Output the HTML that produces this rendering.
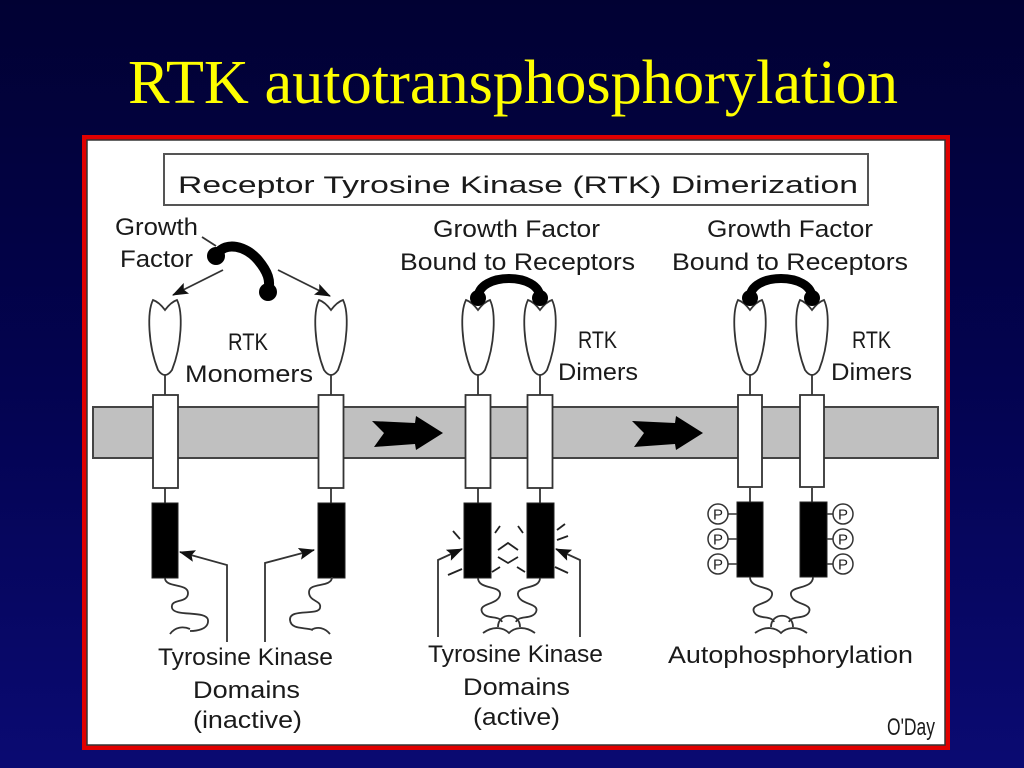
<!DOCTYPE html>
<html>
<head>
<meta charset="utf-8">
<style>
html,body{margin:0;padding:0;background:#000033;}
svg{display:block;}
.lbl{font-family:"Liberation Sans","DejaVu Sans",sans-serif;font-size:24px;fill:#1a1a1a;}
.ln{stroke:#333;stroke-width:1.8;fill:none;}
</style>
</head>
<body>
<svg width="1024" height="768" viewBox="0 0 1024 768" xmlns="http://www.w3.org/2000/svg">
<defs>
  <linearGradient id="bg" x1="0" y1="0" x2="0" y2="1">
    <stop offset="0" stop-color="#010133"/>
    <stop offset="0.5" stop-color="#030350"/>
    <stop offset="1" stop-color="#0a0a72"/>
  </linearGradient>
  <marker id="ah" markerWidth="16" markerHeight="12" refX="15" refY="6" orient="auto" markerUnits="userSpaceOnUse">
    <path d="M0,0 L16,6 L0,12 L3,6 Z" fill="#111"/>
  </marker>
</defs>
<rect x="0" y="0" width="1024" height="768" fill="url(#bg)"/>

<!-- Title -->
<text x="128" y="103" font-family="'Liberation Serif','DejaVu Serif',serif" font-size="62" fill="#ffff00" textLength="770" lengthAdjust="spacingAndGlyphs">RTK autotransphosphorylation</text>

<!-- Frame -->
<rect x="84.5" y="137.5" width="863" height="610" fill="none" stroke="#e00000" stroke-width="5"/>
<rect x="87" y="140" width="858" height="605" fill="#ffffff" stroke="#333" stroke-width="1.5"/>

<!-- Header box -->
<rect x="164" y="154" width="704" height="51" fill="#fff" stroke="#555" stroke-width="2"/>
<text class="lbl" x="178" y="193" font-size="37" textLength="680" lengthAdjust="spacingAndGlyphs">Receptor Tyrosine Kinase (RTK) Dimerization</text>

<!-- Membrane -->
<rect x="93" y="407" width="845" height="51" fill="#c0c0c0" stroke="#444" stroke-width="2"/>

<!-- Big arrows -->
<polygon points="372,421 415,423 416,416 443,433 416,450 415,444 374,447 384,433" fill="#000"/>
<polygon points="632,421 675,423 676,416 703,433 676,450 675,444 634,447 644,433" fill="#000"/>

<!-- Receptors: stems -->
<g stroke="#333" stroke-width="1.8">
  <line x1="165" y1="374" x2="165" y2="395"/><line x1="165" y1="488" x2="165" y2="503"/>
  <line x1="331" y1="374" x2="331" y2="395"/><line x1="331" y1="488" x2="331" y2="503"/>
  <line x1="478" y1="374" x2="478" y2="395"/><line x1="478" y1="488" x2="478" y2="503"/>
  <line x1="540" y1="374" x2="540" y2="395"/><line x1="540" y1="488" x2="540" y2="503"/>
  <line x1="750" y1="374" x2="750" y2="395"/><line x1="750" y1="488" x2="750" y2="503"/>
  <line x1="812" y1="374" x2="812" y2="395"/><line x1="812" y1="488" x2="812" y2="503"/>
</g>

<!-- Ovals -->
<g fill="#fff" stroke="#333" stroke-width="1.8">
  <path d="M153,300 Q159,302 165,310 Q171,302 177,300 C183,312 182,345 172,370 Q165,380 158,370 C148,345 147,312 153,300 Z"/>
  <path d="M319,300 Q325,302 331,310 Q337,302 343,300 C349,312 348,345 338,370 Q331,380 324,370 C314,345 313,312 319,300 Z"/>
  <path d="M466,300 Q472,302 478,310 Q484,302 490,300 C496,312 495,345 485,370 Q478,380 471,370 C461,345 460,312 466,300 Z"/>
  <path d="M528,300 Q534,302 540,310 Q546,302 552,300 C558,312 557,345 547,370 Q540,380 533,370 C523,345 522,312 528,300 Z"/>
  <path d="M738,300 Q744,302 750,310 Q756,302 762,300 C768,312 767,345 757,370 Q750,380 743,370 C733,345 732,312 738,300 Z"/>
  <path d="M800,300 Q806,302 812,310 Q818,302 824,300 C830,312 829,345 819,370 Q812,380 805,370 C795,345 794,312 800,300 Z"/>
</g>

<!-- Transmembrane white rects -->
<g fill="#fff" stroke="#333" stroke-width="1.8">
  <rect x="153" y="395" width="25" height="93"/>
  <rect x="318.5" y="395" width="25" height="93"/>
  <rect x="465.5" y="395" width="25" height="93"/>
  <rect x="527.5" y="395" width="25" height="93"/>
  <rect x="738" y="395" width="24" height="92"/>
  <rect x="800" y="395" width="24" height="92"/>
</g>

<!-- Kinase black rects -->
<g fill="#000" stroke="#222" stroke-width="1">
  <rect x="152" y="503" width="26" height="75"/>
  <rect x="318" y="503" width="27" height="75"/>
  <rect x="464" y="503" width="27" height="75"/>
  <rect x="527" y="503" width="27" height="75"/>
  <rect x="737" y="502" width="26" height="75"/>
  <rect x="800" y="502" width="27" height="75"/>
</g>

<!-- Free growth factor -->
<path d="M217,254 C226,241 246,246 258,260 C268,272 271,281 268,291" fill="none" stroke="#000" stroke-width="10" stroke-linecap="round"/>
<circle cx="216" cy="256" r="9" fill="#000"/>
<circle cx="268" cy="292" r="9" fill="#000"/>
<line x1="202" y1="237" x2="216" y2="246" class="ln" stroke-width="1.5"/>
<line x1="223" y1="270" x2="173" y2="295" class="ln" marker-end="url(#ah)"/>
<line x1="278" y1="270" x2="330" y2="296" class="ln" marker-end="url(#ah)"/>

<!-- Bound growth factors -->
<path d="M478,298 C478,272 540,272 540,298" fill="none" stroke="#000" stroke-width="9"/>
<circle cx="478" cy="298" r="8" fill="#000"/>
<circle cx="540" cy="298" r="8" fill="#000"/>
<path d="M750,298 C750,272 812,272 812,298" fill="none" stroke="#000" stroke-width="9"/>
<circle cx="750" cy="298" r="8" fill="#000"/>
<circle cx="812" cy="298" r="8" fill="#000"/>

<!-- Monomer tails -->
<path class="ln" d="M165,578 C165,588 188,583 188,593 C188,604 170,598 172,608 C174,617 207,610 208,620 C209,630 195,631 190,631"/>
<path class="ln" d="M170,634 C175,627 183,626 190,629"/>
<path class="ln" d="M332,577 C332,588 309,582 309,592 C309,602 322,600 320,608 C318,616 289,608 290,620 C291,630 305,627 313,630"/>
<path class="ln" d="M311,630 C318,626 325,628 330,634"/>

<!-- Inactive arrows -->
<polyline class="ln" points="227,642 227,565 180,552" marker-end="url(#ah)"/>
<polyline class="ln" points="265,642 265,563 314,550" marker-end="url(#ah)"/>

<!-- Active dimer tails -->
<path class="ln" d="M478,578 C478,590 502,585 500,595 C498,605 478,603 482,612 C486,620 500,615 502,622"/>
<path class="ln" d="M540,578 C540,590 516,585 518,595 C520,605 540,603 536,612 C532,620 518,615 516,622"/>
<path class="ln" d="M498,627 C498,612 520,612 520,627"/>
<path class="ln" d="M483,633 C494,625 504,628 509,633 C514,628 524,625 535,633"/>

<!-- Active arrows -->
<polyline class="ln" points="438,637 438,560 462,549" marker-end="url(#ah)"/>
<polyline class="ln" points="580,637 580,560 556,549" marker-end="url(#ah)"/>

<!-- Sparkles -->
<g stroke="#222" stroke-width="1.8" fill="none">
  <line x1="453" y1="531" x2="460" y2="539"/>
  <line x1="448" y1="575" x2="462" y2="569"/>
  <line x1="495" y1="533" x2="500" y2="526"/>
  <line x1="518" y1="526" x2="523" y2="533"/>
  <polyline points="498,550 508,543 518,550"/>
  <polyline points="498,557 508,563 518,557"/>
  <line x1="492" y1="572" x2="500" y2="567"/>
  <line x1="517" y1="567" x2="525" y2="572"/>
  <line x1="557" y1="530" x2="565" y2="524"/>
  <line x1="557" y1="540" x2="568" y2="536"/>
  <line x1="555" y1="567" x2="568" y2="573"/>
</g>

<!-- Autophosphorylated tails -->
<path class="ln" d="M750,577 C750,590 774,585 772,595 C770,605 750,603 754,612 C758,620 772,615 774,622"/>
<path class="ln" d="M813,577 C813,590 789,585 791,595 C793,605 813,603 809,612 C805,620 791,615 789,622"/>
<path class="ln" d="M771,627 C771,612 793,612 793,627"/>
<path class="ln" d="M755,633 C766,625 776,628 781,633 C786,628 796,625 807,633"/>

<!-- P circles -->
<g stroke="#333" stroke-width="1.5">
  <line x1="728" y1="514" x2="737" y2="514"/><line x1="728" y1="539" x2="737" y2="539"/><line x1="728" y1="564" x2="737" y2="564"/>
  <line x1="827" y1="514" x2="833" y2="514"/><line x1="827" y1="539" x2="833" y2="539"/><line x1="827" y1="564" x2="833" y2="564"/>
</g>
<g fill="#fff" stroke="#333" stroke-width="1.5">
  <circle cx="718" cy="514" r="10"/><circle cx="718" cy="539" r="10"/><circle cx="718" cy="564" r="10"/>
  <circle cx="843" cy="514" r="10"/><circle cx="843" cy="539" r="10"/><circle cx="843" cy="564" r="10"/>
</g>
<g font-family="'Liberation Sans',sans-serif" font-size="15" fill="#222" text-anchor="middle">
  <text x="718" y="519.5">P</text><text x="718" y="544.5">P</text><text x="718" y="569.5">P</text>
  <text x="843" y="519.5">P</text><text x="843" y="544.5">P</text><text x="843" y="569.5">P</text>
</g>

<!-- Labels -->
<text class="lbl" x="115" y="235" textLength="83" lengthAdjust="spacingAndGlyphs">Growth</text>
<text class="lbl" x="120" y="267" textLength="73" lengthAdjust="spacingAndGlyphs">Factor</text>
<text class="lbl" x="228" y="350" textLength="40" lengthAdjust="spacingAndGlyphs">RTK</text>
<text class="lbl" x="185" y="382" textLength="128" lengthAdjust="spacingAndGlyphs">Monomers</text>

<text class="lbl" x="433" y="237" textLength="167" lengthAdjust="spacingAndGlyphs">Growth Factor</text>
<text class="lbl" x="400" y="270" textLength="235" lengthAdjust="spacingAndGlyphs">Bound to Receptors</text>
<text class="lbl" x="578" y="348" textLength="39" lengthAdjust="spacingAndGlyphs">RTK</text>
<text class="lbl" x="558" y="380" textLength="80" lengthAdjust="spacingAndGlyphs">Dimers</text>

<text class="lbl" x="707" y="237" textLength="166" lengthAdjust="spacingAndGlyphs">Growth Factor</text>
<text class="lbl" x="672" y="270" textLength="236" lengthAdjust="spacingAndGlyphs">Bound to Receptors</text>
<text class="lbl" x="852" y="348" textLength="39" lengthAdjust="spacingAndGlyphs">RTK</text>
<text class="lbl" x="831" y="380" textLength="81" lengthAdjust="spacingAndGlyphs">Dimers</text>

<text class="lbl" x="158" y="665" textLength="175" lengthAdjust="spacingAndGlyphs">Tyrosine Kinase</text>
<text class="lbl" x="193" y="698" textLength="107" lengthAdjust="spacingAndGlyphs">Domains</text>
<text class="lbl" x="193" y="728" textLength="109" lengthAdjust="spacingAndGlyphs">(inactive)</text>

<text class="lbl" x="428" y="662" textLength="175" lengthAdjust="spacingAndGlyphs">Tyrosine Kinase</text>
<text class="lbl" x="463" y="695" textLength="107" lengthAdjust="spacingAndGlyphs">Domains</text>
<text class="lbl" x="473" y="725" textLength="87" lengthAdjust="spacingAndGlyphs">(active)</text>

<text class="lbl" x="668" y="663" textLength="245" lengthAdjust="spacingAndGlyphs">Autophosphorylation</text>
<text class="lbl" x="887" y="735" font-size="15" textLength="48" lengthAdjust="spacingAndGlyphs">O'Day</text>
</svg>
</body>
</html>
